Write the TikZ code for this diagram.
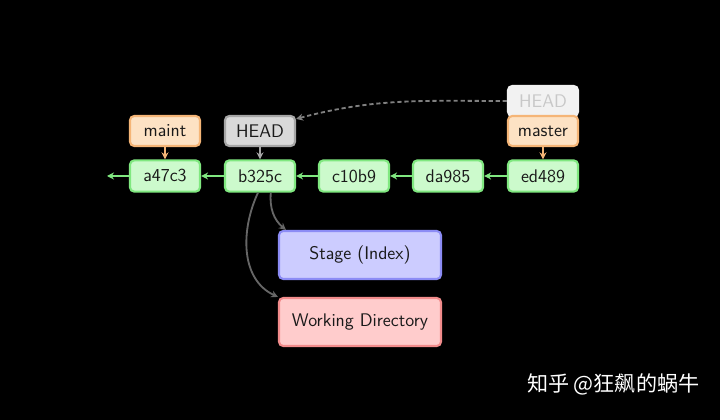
\documentclass[tikz,border=0pt]{standalone}
\usepackage{fontspec}
\newfontfamily\cjk{Noto Sans CJK SC}
\usepackage{xcolor}
\usepackage{tikz}
\usetikzlibrary{shapes,arrows,positioning,calc,arrows.meta}

\definecolor{commitfill}{HTML}{CCFACC}
\definecolor{commitline}{HTML}{80E880}
\definecolor{branchfill}{HTML}{FDE2C4}
\definecolor{branchline}{HTML}{F5B577}
\definecolor{headfill}{HTML}{D9D9D9}
\definecolor{headline}{HTML}{A6A6A6}
\definecolor{oldfill}{HTML}{F2F2F2}
\definecolor{oldtext}{HTML}{C8C8C8}
\definecolor{stagefill}{HTML}{CCCCFF}
\definecolor{stageline}{HTML}{8C8CF5}
\definecolor{wdfill}{HTML}{FFCCCC}
\definecolor{wdline}{HTML}{F28C8C}

\tikzstyle{box} = [rectangle, rounded corners=3pt, line width=1.5pt, inner sep=0pt,
  font=\sffamily\fontsize{13}{15}\selectfont, text=black!90]
\tikzstyle{commit} = [box, draw=commitline, fill=commitfill, minimum width=1.75cm, minimum height=0.78cm]
\tikzstyle{branch} = [box, draw=branchline, fill=branchfill, minimum width=1.75cm, minimum height=0.75cm]
\tikzstyle{headref} = [box, draw=headline, fill=headfill, minimum width=1.75cm, minimum height=0.75cm]
\tikzstyle{area} = [box, minimum width=4.05cm, minimum height=1.2cm]
\tikzstyle{arrow} = [-{Stealth[length=5pt,width=5pt]}, line width=1.3pt]

\begin{document}
\begin{tikzpicture}
    \fill[black] (0,0) rectangle (18,10.5);
    \useasboundingbox (0,0) rectangle (18,10.5);

    % Commits
    \node[commit] (a47c3) at (4.125,6.1) {a47c3};
    \node[commit] (b325c) at (6.5,6.1) {b325c};
    \node[commit] (c10b9) at (8.85,6.1) {c10b9};
    \node[commit] (da985) at (11.2,6.1) {da985};
    \node[commit] (ed489) at (13.575,6.1) {ed489};
    \coordinate (tail) at (2.675,6.1);

    % References
    \node[branch] (maint) at (4.125,7.225) {maint};
    \node[headref] (head) at (6.5,7.225) {HEAD};
    \node[box, draw=oldfill, fill=oldfill, text=oldtext, minimum width=1.75cm,
      minimum height=0.75cm] (oldhead) at (13.575,7.975) {HEAD};
    \node[branch] (master) at (13.575,7.225) {master};

    % Stage and working directory
    \node[area, draw=stageline, fill=stagefill] (stage) at (9.0,4.125) {Stage (Index)};
    \node[area, draw=wdline, fill=wdfill] (wd) at (9.0,2.45) {Working Directory};

    % History
    \draw[arrow, commitline] (a47c3) -- (tail);
    \draw[arrow, commitline] (b325c) -- (a47c3);
    \draw[arrow, commitline] (c10b9) -- (b325c);
    \draw[arrow, commitline] (da985) -- (c10b9);
    \draw[arrow, commitline] (ed489) -- (da985);

    % Pointers
    \draw[arrow, branchline] (maint) -- (a47c3);
    \draw[arrow, headline] (head) -- (b325c);
    \draw[arrow, branchline] (master) -- (ed489);
    \draw[arrow, black!50, dash pattern=on 3pt off 2pt] (oldhead.west) to[out=180, in=15]
      ([yshift=-0.1cm]head.north east);

    % Checkout
    \draw[arrow, black!60] ([xshift=0.27cm]b325c.south) to[out=-95, in=140]
      ([xshift=0.2cm]stage.north west);
    \draw[arrow, black!60] ([xshift=-0.05cm]b325c.south) to[out=-115, in=155]
      (wd.north west);

    % Watermark
    \node[text=white, font=\cjk\fontsize{15}{17}\selectfont] (mark) at (15.33,0.9) {知乎 @狂飙的蜗牛};
\end{tikzpicture}
\end{document}
